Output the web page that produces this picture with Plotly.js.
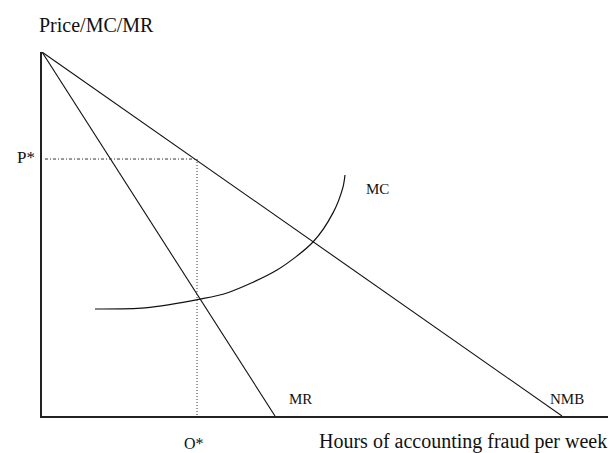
<!DOCTYPE html>
<html>
<head>
<meta charset="utf-8">
<script src="https://cdn.plot.ly/plotly-3.0.1.min.js"></script>
<style>html,body{margin:0;padding:0;background:#fff;}#chart{width:613px;height:453px;}</style>
</head>
<body>
<div id="chart"></div>
<script>
// Net marginal benefit (NMB) line
var nmbX = [0, 10.4];
var nmbY = [10, 0];
// Marginal revenue (MR) line
var mrX = [0, 4.66];
var mrY = [10, 0];
// Marginal cost (MC) curve
var mcX = [1.06, 2.06, 3.16, 3.70, 4.70, 5.42, 5.82, 6.02, 6.06];
var mcY = [2.94, 2.97, 3.21, 3.38, 4.01, 4.78, 5.58, 6.29, 6.62];
// Equilibrium guides
var qStar = 3.1;
var pStar = 7.06;
var guideHX = [0.06, qStar];
var guideHY = [pStar, pStar];
var guideVX = [qStar, qStar];
var guideVY = [pStar, 0];

var serif = "Liberation Serif, Times New Roman, serif";
var traces = [
  {x: nmbX, y: nmbY, mode: 'lines', line: {color: '#111', width: 1.1}, hoverinfo: 'skip'},
  {x: mrX, y: mrY, mode: 'lines', line: {color: '#111', width: 1.1}, hoverinfo: 'skip'},
  {x: mcX, y: mcY, mode: 'lines', line: {color: '#111', width: 1.2, shape: 'spline', smoothing: 0.8}, hoverinfo: 'skip'},
  {x: guideHX, y: guideHY, mode: 'lines', line: {color: '#333', width: 1, dash: '3px,2px,1px,2px'}, hoverinfo: 'skip'},
  {x: guideVX, y: guideVY, mode: 'lines', line: {color: '#333', width: 1, dash: '1px,2px'}, hoverinfo: 'skip'}
];

function ann(text, x, y, xa, size) {
  return {text: text, x: x, y: y, xref: 'paper', yref: 'paper', xanchor: xa, yanchor: 'middle',
          showarrow: false, borderpad: 0, font: {family: serif, size: size, color: '#111'}};
}

var layout = {
  width: 613, height: 453,
  margin: {l: 42, r: 5, t: 52, b: 37},
  paper_bgcolor: '#fff', plot_bgcolor: '#fff',
  showlegend: false,
  xaxis: {range: [0, 11.32], showgrid: false, zeroline: false, showticklabels: false, ticks: '',
          showline: true, linecolor: '#222', linewidth: 2, fixedrange: true},
  yaxis: {range: [0, 10], showgrid: false, zeroline: false, showticklabels: false, ticks: '',
          showline: true, linecolor: '#222', linewidth: 2, fixedrange: true},
  annotations: [
    ann('Price/MC/MR', -0.0071, 1.074, 'left', 20),
    ann('Hours of accounting fraud per week', 0.4876, -0.0714, 'left', 20),
    ann('O*', 0.2677, -0.0742, 'center', 16),
    ann('P*', -0.0283, 0.709, 'center', 17),
    ann('MC', 0.5707, 0.625, 'left', 15),
    ann('MR', 0.4346, 0.048, 'left', 15),
    ann('NMB', 0.8958, 0.0467, 'left', 15)
  ]
};

Plotly.newPlot('chart', traces, layout, {displayModeBar: false, staticPlot: true});
</script>
</body>
</html>
